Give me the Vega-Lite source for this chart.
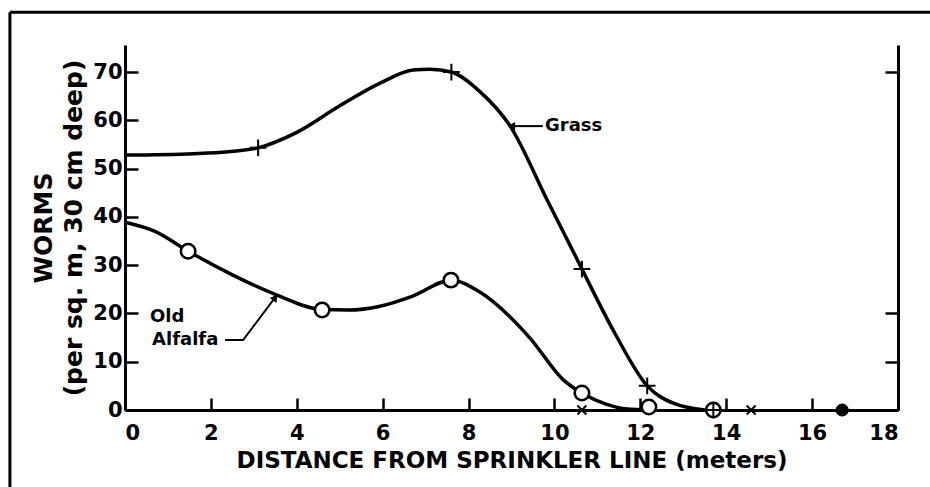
{
  "$schema": "https://vega.github.io/schema/vega-lite/v6.json",
  "width": 773,
  "height": 365,
  "autosize": {"type": "none"},
  "padding": {"left": 125, "top": 45, "right": 32, "bottom": 77},
  "background": "white",
  "config": {
    "view": {"stroke": null},
    "font": "DejaVu Sans",
    "axis": {
      "labelFont": "DejaVu Sans",
      "labelFontWeight": "bold",
      "labelFontSize": 21,
      "labelColor": "black",
      "titleFont": "DejaVu Sans",
      "titleFontWeight": "bold",
      "titleColor": "black",
      "domainColor": "black",
      "domainWidth": 3,
      "tickColor": "black",
      "tickWidth": 2.5,
      "grid": false
    }
  },
  "datasets": {
    "grass": [
      {"d": 0, "w": 52.8}, {"d": 1.6, "w": 53.1}, {"d": 2.4, "w": 53.5}, {"d": 3.1, "w": 54.3},
      {"d": 4, "w": 57.5}, {"d": 5, "w": 63}, {"d": 5.94, "w": 67.7}, {"d": 6.7, "w": 70.4},
      {"d": 7.1, "w": 70.6}, {"d": 7.6, "w": 70}, {"d": 8.27, "w": 65.9}, {"d": 8.97, "w": 58.8},
      {"d": 9.83, "w": 43.5}, {"d": 10.5, "w": 31.7}, {"d": 10.64, "w": 29.2}, {"d": 11.4, "w": 16},
      {"d": 12.16, "w": 5}, {"d": 12.8, "w": 1.3}, {"d": 13.5, "w": 0}
    ],
    "alfalfa": [
      {"d": 0, "w": 38.9}, {"d": 0.7, "w": 37}, {"d": 1.47, "w": 32.9}, {"d": 2.5, "w": 28},
      {"d": 3.54, "w": 23.8}, {"d": 4.59, "w": 20.8}, {"d": 5.2, "w": 20.7}, {"d": 5.94, "w": 21.5},
      {"d": 6.7, "w": 23.6}, {"d": 7.59, "w": 26.9}, {"d": 8.27, "w": 24.4}, {"d": 9.43, "w": 14.9},
      {"d": 10.2, "w": 6.3}, {"d": 10.64, "w": 3.5}, {"d": 11.2, "w": 1.2}, {"d": 11.7, "w": 0.2},
      {"d": 12.2, "w": 0}
    ],
    "markers": [
      {"d": 3.1, "w": 54.3, "m": "plus"}, {"d": 7.6, "w": 70, "m": "plus"},
      {"d": 10.64, "w": 29.2, "m": "plus"}, {"d": 12.16, "w": 5, "m": "plus"},
      {"d": 13.7, "w": 0, "m": "plus"},
      {"d": 1.47, "w": 32.9, "m": "circle"}, {"d": 4.59, "w": 20.7, "m": "circle"},
      {"d": 7.59, "w": 26.9, "m": "circle"}, {"d": 10.64, "w": 3.5, "m": "circle"},
      {"d": 12.2, "w": 0.6, "m": "circle"}, {"d": 13.7, "w": 0, "m": "circle"},
      {"d": 10.64, "w": 0, "m": "cross"}, {"d": 14.58, "w": 0, "m": "cross"},
      {"d": 16.7, "w": 0, "m": "dot"}
    ],
    "leaders": [
      {"g": "grass", "o": 1, "d": 9.73, "w": 58.8}, {"g": "grass", "o": 2, "d": 9.05, "w": 58.8},
      {"g": "alfalfa", "o": 1, "d": 2.33, "w": 14.5}, {"g": "alfalfa", "o": 2, "d": 2.75, "w": 14.5},
      {"g": "alfalfa", "o": 3, "d": 3.48, "w": 23.1}
    ],
    "heads": [
      {"d": 9.0, "w": 58.8, "dir": -90},
      {"d": 3.5, "w": 23.3, "dir": 37}
    ],
    "labels": [
      {"d": 0.58, "w": 19.3, "t": "Old"},
      {"d": 0.63, "w": 14.5, "t": "Alfalfa"},
      {"d": 9.78, "w": 58.8, "t": "Grass"}
    ],
    "frame": [
      {"d": -2.68, "d2": 24, "w": 82.4, "w2": 82.4},
      {"d": -2.68, "d2": -2.68, "w": 82.4, "w2": -20}
    ]
  },
  "encoding": {
    "x": {
      "field": "d", "type": "quantitative",
      "scale": {"domain": [0, 18], "nice": false, "zero": false},
      "axis": {
        "title": "DISTANCE FROM SPRINKLER LINE (meters)",
        "values": [0, 2, 4, 6, 8, 10, 12, 14, 16, 18],
        "format": "d",
        "tickSize": -12,
        "labelPadding": 24,
        "titleFontSize": 23,
        "titlePadding": 6
      }
    }
  },
  "layer": [
    {
      "data": {"name": "frame"},
      "mark": {"type": "rule", "color": "black", "strokeWidth": 3, "clip": false},
      "encoding": {
        "x": {"field": "d", "type": "quantitative"},
        "x2": {"field": "d2"},
        "y": {"field": "w", "type": "quantitative", "scale": {"domain": [0, 75.6], "nice": false, "zero": false}, "axis": null},
        "y2": {"field": "w2"}
      }
    },
    {
      "data": {"name": "grass"},
      "mark": {"type": "line", "interpolate": "monotone", "color": "black", "strokeWidth": 3.5},
      "encoding": {
        "y": {
          "field": "w", "type": "quantitative",
          "scale": {"domain": [0, 75.6], "nice": false, "zero": false},
          "axis": {
            "orient": "left",
            "title": ["WORMS", "(per sq. m, 30 cm deep)"],
            "titleFontSize": 25,
            "titleLineHeight": 30,
            "titlePadding": 6,
            "values": [0, 10, 20, 30, 40, 50, 60, 70],
            "tickSize": -13,
            "labelPadding": 16
          }
        }
      }
    },
    {
      "data": {"name": "alfalfa"},
      "mark": {"type": "line", "interpolate": "monotone", "color": "black", "strokeWidth": 3.5},
      "encoding": {
        "y": {
          "field": "w", "type": "quantitative",
          "scale": {"domain": [0, 75.6], "nice": false, "zero": false},
          "axis": {
            "orient": "right",
            "title": null,
            "labels": false,
            "values": [10, 20, 70],
            "tickSize": -13
          }
        }
      }
    },
    {
      "data": {"name": "leaders"},
      "mark": {"type": "line", "color": "black", "strokeWidth": 2},
      "encoding": {
        "y": {"field": "w", "type": "quantitative", "axis": null},
        "detail": {"field": "g"},
        "order": {"field": "o"}
      }
    },
    {
      "data": {"name": "heads"},
      "mark": {"type": "point", "shape": "triangle-up", "filled": true, "color": "black", "size": 70, "opacity": 1},
      "encoding": {
        "y": {"field": "w", "type": "quantitative", "axis": null},
        "angle": {"field": "dir", "type": "quantitative", "scale": null}
      }
    },
    {
      "data": {"name": "markers"},
      "transform": [{"filter": "datum.m === 'circle'"}],
      "mark": {"type": "point", "shape": "circle", "filled": false, "fill": "white", "fillOpacity": 1, "stroke": "black", "strokeWidth": 2.5, "size": 210, "opacity": 1},
      "encoding": {"y": {"field": "w", "type": "quantitative", "axis": null}}
    },
    {
      "data": {"name": "markers"},
      "transform": [{"filter": "datum.m === 'plus'"}],
      "mark": {"type": "point", "shape": "M-1,0H1M0,-1V1", "filled": false, "stroke": "black", "strokeWidth": 2, "size": 280, "opacity": 1},
      "encoding": {"y": {"field": "w", "type": "quantitative", "axis": null}}
    },
    {
      "data": {"name": "markers"},
      "transform": [{"filter": "datum.m === 'cross'"}],
      "mark": {"type": "point", "shape": "M-1,-1L1,1M1,-1L-1,1", "filled": false, "stroke": "black", "strokeWidth": 2, "size": 80, "opacity": 1},
      "encoding": {"y": {"field": "w", "type": "quantitative", "axis": null}}
    },
    {
      "data": {"name": "markers"},
      "transform": [{"filter": "datum.m === 'dot'"}],
      "mark": {"type": "point", "shape": "circle", "filled": true, "color": "black", "size": 170, "opacity": 1},
      "encoding": {"y": {"field": "w", "type": "quantitative", "axis": null}}
    },
    {
      "data": {"name": "labels"},
      "mark": {"type": "text", "align": "left", "baseline": "middle", "font": "DejaVu Sans", "fontWeight": "bold", "fontSize": 18, "color": "black"},
      "encoding": {
        "y": {"field": "w", "type": "quantitative", "axis": null},
        "text": {"field": "t"}
      }
    }
  ],
  "resolve": {"axis": {"y": "independent"}}
}
